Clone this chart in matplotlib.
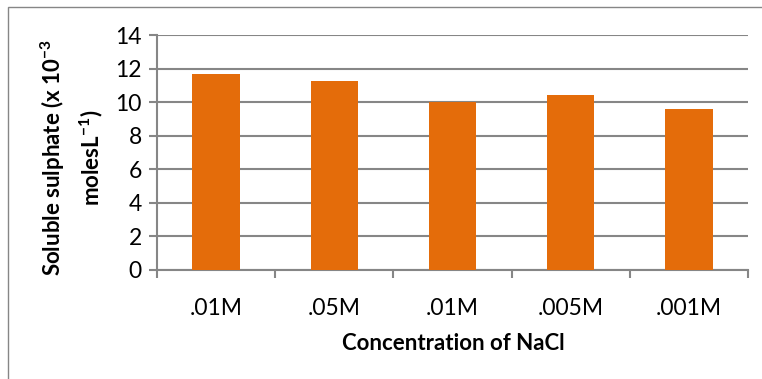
import matplotlib.pyplot as plt
from matplotlib.patches import Rectangle
import numpy as np

plt.rcParams['font.family'] = ['Lato', 'DejaVu Sans']
plt.rcParams['mathtext.fontset'] = 'custom'
plt.rcParams['mathtext.rm'] = 'Lato'
plt.rcParams['mathtext.bf'] = 'Lato:bold'

labels = [".01M", ".05M", ".01M", ".005M", ".001M"]
sulphate = [11.65, 11.25, 10.0, 10.4, 9.58]

fig = plt.figure(figsize=(7.62, 3.79), dpi=100)
# chart border
fig.patches.append(Rectangle((8 / 762, -0.1), 1.2, 1.1 - 7 / 379,
                             transform=fig.transFigure, fill=False,
                             edgecolor="#868686", linewidth=1))
ax = fig.add_axes([157 / 762, 1 - 270 / 379, 591 / 762, 235 / 379])

x = np.arange(len(labels))
ax.bar(x, sulphate, width=0.4, color="#E46C0A", zorder=3)

ax.set_xlim(-0.5, len(labels) - 0.5)
ax.set_ylim(0, 14)
ax.set_yticks(np.arange(0, 15, 2))
ax.yaxis.grid(True, color="#868686", linewidth=1.5)
ax.set_axisbelow(True)

ax.set_xticks(x)
ax.set_xticklabels(labels, fontsize=16.5)
ax.set_xticks(np.arange(-0.5, len(labels), 1), minor=True)
ax.tick_params(axis="x", which="major", length=0, pad=20)
ax.tick_params(axis="x", which="minor", length=6, color="#868686", width=1.5)
ax.tick_params(axis="y", length=6, color="#868686", width=1.5, labelsize=16.5, pad=5)

for s in ["top", "right"]:
    ax.spines[s].set_visible(False)
for s in ["left", "bottom"]:
    ax.spines[s].set_color("#868686")
    ax.spines[s].set_linewidth(1.5)

fig.text(453 / 762, 1 - 343 / 379, "Concentration of NaCl", ha="center",
         va="center", fontsize=16, fontweight="bold")
fig.text(72 / 762, 1 - 158 / 379,
         "Soluble sulphate (x 10$^{\\mathbf{-3}}$\nmolesL$^{\\mathbf{-1}}$)",
         ha="center", va="center", rotation=90, fontsize=16,
         fontweight="bold", linespacing=1.45, multialignment="center")

fig.savefig("out.png", dpi=100)
